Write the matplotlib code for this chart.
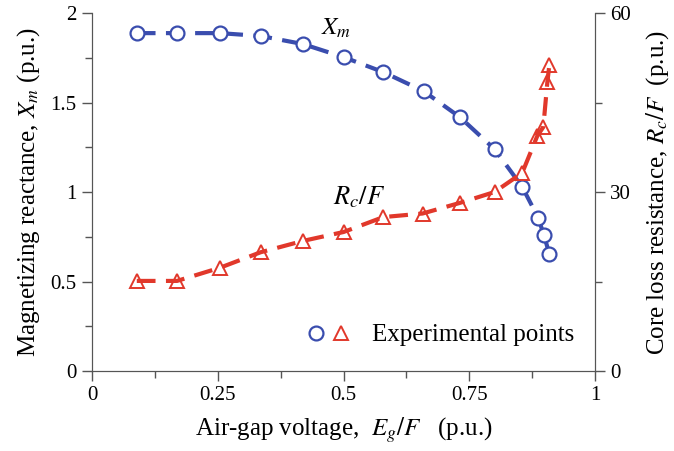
import matplotlib
matplotlib.use("Agg")
import matplotlib.pyplot as plt
from matplotlib.legend_handler import HandlerTuple
from matplotlib.ticker import MultipleLocator

plt.rcParams['font.family'] = ['Liberation Serif', 'DejaVu Serif']
plt.rcParams['mathtext.fontset'] = 'stix'

# measured points
eg_xm = [0.089, 0.169, 0.254, 0.335, 0.419, 0.500, 0.579, 0.659, 0.731, 0.800, 0.855, 0.887, 0.898, 0.909]
xm = [1.888, 1.888, 1.888, 1.872, 1.827, 1.754, 1.670, 1.564, 1.419, 1.240, 1.029, 0.855, 0.760, 0.655]

eg_rc = [0.089, 0.169, 0.254, 0.335, 0.419, 0.500, 0.579, 0.657, 0.732, 0.800, 0.855, 0.885, 0.897, 0.905, 0.909]
rc = [15.1, 15.1, 17.3, 19.9, 21.8, 23.3, 25.8, 26.4, 28.2, 30.0, 33.2, 39.4, 40.9, 48.4, 51.3]

blue = '#3a4dae'
red = '#e1382b'

fig = plt.figure(figsize=(6.74, 4.51), dpi=100)
ax = fig.add_axes([0.1365, 0.1774, 0.7465, 0.7936])
ax2 = ax.twinx()

ax.plot(eg_xm, xm, color=blue, lw=3, ls=(0, (4.5, 2.5)))
circ, = ax.plot(eg_xm, xm, 'o', ms=10, mfc='white', mec=blue, mew=1.6, ls='none')
ax2.plot(eg_rc, rc, color=red, lw=3, ls=(0, (4.5, 2.5)))
tri, = ax2.plot(eg_rc, rc, '^', ms=10.5, mfc='none', mec=red, mew=1.4, ls='none')

ax.set_xlim(0, 1)
ax.set_ylim(0, 2)
ax2.set_ylim(0, 60)
ax.xaxis.set_minor_locator(MultipleLocator(0.125))
ax.yaxis.set_minor_locator(MultipleLocator(0.25))
ax2.yaxis.set_major_locator(MultipleLocator(30))
ax2.yaxis.set_minor_locator(MultipleLocator(15))
ax.set_xticks([0, 0.25, 0.5, 0.75, 1])
ax.set_xticklabels(['0', '0.25', '0.5', '0.75', '1'])
ax.set_yticks([0, 0.5, 1, 1.5, 2])
ax.set_yticklabels(['0', '0.5', '1', '1.5', '2'])

for a in (ax, ax2):
    a.spines['top'].set_visible(False)
    for s in a.spines.values():
        s.set_color('#555555')
    a.tick_params(which='major', length=7, width=1, color='#555555', labelsize=15, pad=4)
    a.tick_params(which='minor', length=5, width=1, color='#555555')

ax.set_xlabel('Air-gap voltage,  $E_g/F$   (p.u.)', fontsize=18, labelpad=7)
ax.set_ylabel('Magnetizing reactance, $X_m$ (p.u.)', fontsize=18, labelpad=6)
ax2.set_ylabel('Core loss resistance, $R_c/F$  (p.u.)', fontsize=18, labelpad=9)

ax.text(0.455, 1.88, '$X_m$', fontsize=18, color='black')
ax.text(0.478, 0.93, '$R_c/F$', fontsize=19, color='black')

ax.legend([(circ, tri)], ['Experimental points'], handler_map={tuple: HandlerTuple(ndivide=None, pad=0.4)},
          loc='center right', bbox_to_anchor=(0.958, 0.10), frameon=False, fontsize=18,
          handlelength=1.6, handletextpad=0.94, borderpad=0, borderaxespad=0)

fig.savefig('out.png', dpi=100)
